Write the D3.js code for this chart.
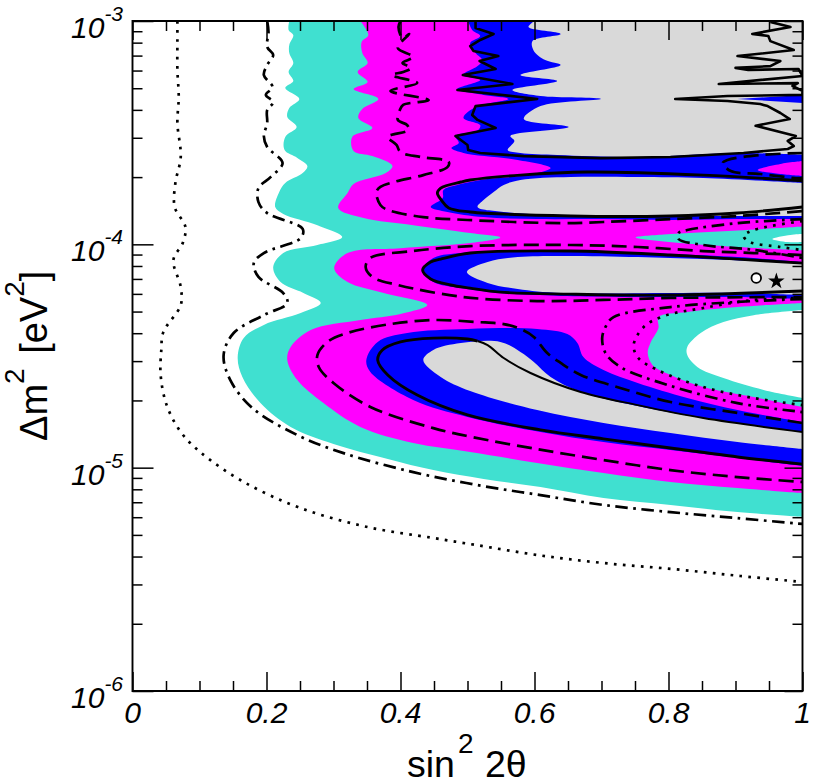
<!DOCTYPE html>
<html>
<head>
<meta charset="utf-8">
<style>
html,body{margin:0;padding:0;background:#fff;overflow:hidden}
text{font-family:"Liberation Sans",Arial,sans-serif;fill:#000}
</style>
<script src="https://cdn.jsdelivr.net/npm/d3@7"></script>
</head>
<body>
<script>
// All contours: [sin^2 2theta, log10(dm^2 / eV^2)]
const turquoiseEdge = [[.234,-3],[.233,-3.040],[.240,-3.063],[.234,-3.107],[.234,-3.143],[.240,-3.188],[.233,-3.228],[.240,-3.269],[.228,-3.300],[.249,-3.349],[.234,-3.390],[.231,-3.430],[.245,-3.475],[.228,-3.519],[.227,-3.578],[.246,-3.613],[.261,-3.649],[.254,-3.681],[.228,-3.725],[.219,-3.766],[.213,-3.833],[.225,-3.864],[.276,-3.914],[.313,-3.967],[.276,-4.003],[.225,-4.039],[.210,-4.102],[.221,-4.169],[.255,-4.218],[.281,-4.263],[.251,-4.308],[.196,-4.361],[.166,-4.419],[.157,-4.505],[.164,-4.594],[.191,-4.711],[.236,-4.818],[.300,-4.894],[.381,-4.961],[.449,-5.011],[.524,-5.051],[.609,-5.087],[.703,-5.136],[.803,-5.167],[.903,-5.199],[1,-5.221]];
const magentaEdge = [[.340,-3],[.352,-3.063],[.342,-3.094],[.343,-3.143],[.351,-3.188],[.336,-3.228],[.351,-3.273],[.330,-3.305],[.367,-3.349],[.343,-3.394],[.337,-3.434],[.358,-3.479],[.328,-3.519],[.330,-3.582],[.358,-3.605],[.388,-3.649],[.378,-3.681],[.330,-3.730],[.321,-3.770],[.307,-3.837],[.345,-3.882],[.419,-3.914],[.504,-3.949],[.549,-3.969],[.504,-3.994],[.400,-4.017],[.321,-4.039],[.301,-4.106],[.321,-4.169],[.375,-4.218],[.440,-4.272],[.400,-4.312],[.340,-4.339],[.266,-4.384],[.236,-4.460],[.231,-4.518],[.246,-4.608],[.285,-4.711],[.340,-4.818],[.419,-4.890],[.504,-4.930],[.604,-4.979],[.703,-5.024],[.803,-5.064],[.903,-5.091],[1,-5.114]];
const turquoiseIslandUpper = [[1,-3.920],[.903,-3.938],[.793,-3.956],[.751,-3.969],[.793,-3.987],[.903,-4.012],[1,-4.027]];
const whiteIslandUpper = [[1,-3.954],[.982,-3.958],[.955,-3.976],[.978,-3.990],[1,-3.990]];
const turquoiseIslandLower = [[1,-4.263],[.903,-4.281],[.828,-4.303],[.785,-4.326],[.785,-4.375],[.773,-4.442],[.769,-4.487],[.776,-4.540],[.803,-4.585],[.852,-4.639],[.927,-4.684],[1,-4.729]];
const whiteIslandLower = [[1,-4.294],[.927,-4.317],[.882,-4.348],[.848,-4.397],[.828,-4.460],[.828,-4.496],[.843,-4.549],[.882,-4.599],[.942,-4.652],[1,-4.688]];
const blueUpper = [[.501,-3],[.507,-3.040],[.519,-3.067],[.504,-3.099],[.512,-3.143],[.522,-3.175],[.515,-3.202],[.493,-3.242],[.519,-3.264],[.485,-3.305],[.524,-3.331],[.561,-3.349],[.512,-3.385],[.494,-3.434],[.519,-3.466],[.516,-3.488],[.482,-3.515],[.487,-3.546],[.476,-3.569],[.494,-3.591],[.575,-3.622],[.624,-3.658],[.590,-3.690],[.530,-3.708],[.485,-3.734],[.464,-3.757],[.463,-3.793],[.445,-3.833],[.470,-3.855],[.524,-3.878],[.604,-3.887],[.703,-3.887],[.803,-3.891],[.903,-3.887],[1,-3.887]];
const blueMiddle = [[1,-4.079],[.903,-4.057],[.803,-4.043],[.654,-4.030],[.549,-4.030],[.490,-4.039],[.449,-4.061],[.433,-4.115],[.449,-4.169],[.490,-4.196],[.549,-4.218],[.639,-4.231],[.803,-4.236],[.903,-4.236],[1,-4.245]];
const blueLower = [[1,-4.796],[.903,-4.742],[.828,-4.688],[.754,-4.621],[.703,-4.563],[.673,-4.505],[.664,-4.442],[.649,-4.402],[.604,-4.379],[.500,-4.379],[.410,-4.397],[.366,-4.437],[.349,-4.518],[.355,-4.572],[.419,-4.697],[.500,-4.773],[.609,-4.840],[.703,-4.885],[.803,-4.921],[.903,-4.957],[1,-4.993]];
const magentaLobe = [[1,-3.627],[.967,-3.640],[.933,-3.667],[.967,-3.685],[1,-3.694]];
const grayTop = [[.600,-3],[.591,-3.027],[.639,-3.058],[.597,-3.090],[.599,-3.134],[.616,-3.175],[.639,-3.197],[.579,-3.242],[.634,-3.269],[.567,-3.309],[.609,-3.336],[.699,-3.349],[.609,-3.381],[.584,-3.439],[.651,-3.475],[.564,-3.515],[.570,-3.537],[.560,-3.578],[.579,-3.591],[.634,-3.600],[.754,-3.609],[.903,-3.591],[1,-3.600]];
const graySecond = [[1,-3.725],[.852,-3.703],[.754,-3.699],[.654,-3.699],[.579,-3.712],[.554,-3.734],[.539,-3.766],[.524,-3.802],[.515,-3.833],[.554,-3.855],[.654,-3.869],[.803,-3.873],[.903,-3.873],[1,-3.873]];
const grayThird = [[1,-4.084],[.852,-4.066],[.754,-4.057],[.639,-4.052],[.575,-4.057],[.530,-4.079],[.499,-4.124],[.530,-4.173],[.575,-4.200],[.639,-4.218],[.803,-4.218],[.903,-4.218],[1,-4.227]];
const grayFourth = [[1,-4.840],[.852,-4.778],[.754,-4.724],[.669,-4.661],[.624,-4.594],[.599,-4.527],[.579,-4.482],[.549,-4.437],[.490,-4.442],[.449,-4.473],[.434,-4.518],[.460,-4.594],[.504,-4.657],[.604,-4.742],[.703,-4.800],[.803,-4.845],[.903,-4.885],[1,-4.917]];
const blueSliver = [[1,-3.331],[.903,-3.349],[1,-3.367]];
const solidTop = [[.512,-3],[.512,-3.031],[.539,-3.058],[.519,-3.085],[.504,-3.112],[.509,-3.134],[.546,-3.157],[.518,-3.179],[.542,-3.215],[.493,-3.242],[.567,-3.282],[.485,-3.309],[.604,-3.349],[.512,-3.381],[.507,-3.421],[.515,-3.443],[.542,-3.479],[.482,-3.515],[.500,-3.555],[.501,-3.578],[.519,-3.591],[.584,-3.605],[.699,-3.614],[.803,-3.609],[.912,-3.591],[.978,-3.573],[.987,-3.560],[.978,-3.537],[.990,-3.515],[.930,-3.469],[.981,-3.439],[.967,-3.412],[.948,-3.381],[.937,-3.372],[.888,-3.358],[.810,-3.349],[.888,-3.336],[1,-3.331],[1,-3.313],[.985,-3.291],[.993,-3.278],[.875,-3.282],[1,-3.246],[.994,-3.215],[.919,-3.219],[.900,-3.210],[.952,-3.202],[.967,-3.179],[.903,-3.157],[.987,-3.130],[.952,-3.090],[.949,-3.067],[.925,-3.058],[.982,-3.027],[.952,-3.004]];
const solidSecond = [[1,-3.716],[.852,-3.690],[.679,-3.676],[.579,-3.690],[.504,-3.712],[.490,-3.721],[.460,-3.748],[.455,-3.770],[.461,-3.802],[.472,-3.837],[.504,-3.855],[.654,-3.873],[.803,-3.873],[.903,-3.860],[1,-3.833]];
const solidThird = [[1,-4.084],[.903,-4.066],[.803,-4.048],[.654,-4.030],[.504,-4.039],[.460,-4.066],[.445,-4.079],[.433,-4.115],[.445,-4.155],[.475,-4.182],[.504,-4.196],[.549,-4.214],[.654,-4.223],[.803,-4.227],[1,-4.209]];
const solidFourthThin = [[1,-4.840],[.852,-4.778],[.754,-4.720],[.669,-4.661],[.594,-4.576],[.554,-4.509],[.530,-4.451],[.515,-4.433]];
const solidFourthThick = [[.515,-4.433],[.500,-4.424],[.449,-4.420],[.400,-4.437],[.373,-4.473],[.366,-4.518],[.381,-4.585],[.425,-4.675],[.500,-4.764],[.609,-4.831],[.703,-4.871],[.803,-4.912],[.903,-4.952],[1,-4.984]];
const dashedTop = [[.400,-3],[.397,-3.027],[.403,-3.076],[.413,-3.058],[.396,-3.121],[.419,-3.161],[.403,-3.188],[.416,-3.210],[.404,-3.228],[.387,-3.242],[.425,-3.278],[.385,-3.313],[.442,-3.354],[.404,-3.376],[.399,-3.399],[.396,-3.443],[.410,-3.466],[.412,-3.488],[.381,-3.519],[.394,-3.555],[.400,-3.587],[.430,-3.609],[.472,-3.631],[.470,-3.654],[.434,-3.690],[.390,-3.721],[.370,-3.743],[.364,-3.766],[.370,-3.824],[.381,-3.846],[.434,-3.878],[.500,-3.891],[.639,-3.905],[.703,-3.900],[.803,-3.887],[.903,-3.873],[1,-3.851]];
const dashedRight = [[1,-3.591],[.937,-3.600],[.888,-3.622],[.881,-3.636],[.893,-3.672],[.937,-3.685],[1,-3.708]];
const dashedMiddle = [[1,-4.048],[.927,-4.039],[.852,-4.030],[.754,-4.012],[.654,-4.003],[.504,-4.008],[.419,-4.030],[.355,-4.061],[.348,-4.102],[.358,-4.146],[.396,-4.182],[.494,-4.236],[.604,-4.254],[.703,-4.249],[.803,-4.240],[1,-4.236]];
const dashedLower = [[1,-4.800],[.903,-4.755],[.803,-4.706],[.728,-4.643],[.669,-4.585],[.639,-4.531],[.619,-4.487],[.599,-4.415],[.579,-4.379],[.554,-4.357],[.515,-4.348],[.449,-4.339],[.385,-4.357],[.321,-4.397],[.291,-4.437],[.276,-4.496],[.278,-4.549],[.300,-4.621],[.355,-4.728],[.449,-4.823],[.507,-4.863],[.604,-4.917],[.703,-4.966],[.803,-5.011],[.903,-5.042],[1,-5.064]];
const dashDotMain = [[.201,-3],[.203,-3.049],[.201,-3.116],[.210,-3.152],[.201,-3.197],[.196,-3.242],[.209,-3.296],[.199,-3.331],[.210,-3.363],[.201,-3.399],[.201,-3.457],[.196,-3.515],[.201,-3.564],[.224,-3.636],[.206,-3.699],[.188,-3.748],[.188,-3.811],[.201,-3.860],[.254,-3.931],[.251,-3.972],[.196,-4.039],[.181,-4.084],[.188,-4.146],[.225,-4.218],[.231,-4.263],[.196,-4.317],[.151,-4.397],[.136,-4.496],[.146,-4.608],[.179,-4.733],[.246,-4.854],[.315,-4.935],[.419,-5.020],[.515,-5.078],[.609,-5.123],[.703,-5.167],[.803,-5.199],[.903,-5.226],[1,-5.252]];
const dashDotRight = [[1,-4.245],[.903,-4.258],[.803,-4.281],[.718,-4.326],[.706,-4.370],[.701,-4.420],[.706,-4.487],[.728,-4.549],[.799,-4.630],[.903,-4.711],[1,-4.751]];
const dashDotSmall = [[1,-3.887],[.903,-3.905],[.828,-3.936],[.815,-3.949],[.815,-3.976],[.852,-4.003],[.927,-4.025],[1,-4.061]];
const dottedMain = [[.067,-3],[.067,-3.099],[.067,-3.219],[.069,-3.340],[.067,-3.457],[.072,-3.609],[.064,-3.725],[.063,-3.833],[.079,-3.922],[.075,-3.994],[.061,-4.070],[.072,-4.191],[.072,-4.272],[.046,-4.393],[.043,-4.473],[.042,-4.585],[.051,-4.720],[.072,-4.840],[.101,-4.930],[.166,-5.064],[.251,-5.181],[.351,-5.266],[.449,-5.315],[.512,-5.346],[.604,-5.391],[.703,-5.427],[.807,-5.454],[.907,-5.485],[1,-5.512]];
const dottedRight = [[1,-4.240],[.927,-4.249],[.852,-4.285],[.793,-4.321],[.763,-4.370],[.748,-4.451],[.755,-4.509],[.784,-4.563],[.852,-4.639],[.927,-4.688],[1,-4.720]];
const dottedSmall = [[1,-3.896],[.927,-3.936],[.912,-3.963],[.922,-3.990],[.967,-4.012],[1,-4.026]];
const circlePoint = [.931,-4.151];
const starPoint = [.961,-4.165];
const xMajorTicks = [0,.2,.4,.6,.8,1];
const xMinorTicks = [.05,.1,.15,.25,.3,.35,.45,.5,.55,.65,.7,.75,.85,.9,.95];
const xTickLabels = ["0","0.2","0.4","0.6","0.8","1"];
const yDecades = [-3,-4,-5,-6];
const yTickExponentLabels = ["-3","-4","-5","-6"];

const colors = {turquoise:"#40E0D0", magenta:"#FF00FF", blue:"#0000FF", gray:"#D9D9D9"};
const W = 814, H = 781, L = 132.5, R = 802.5, T = 21, B = 691;

const x = d3.scaleLinear().domain([0,1]).range([L,R]);
const y = d3.scaleLog().domain([1e-6,1e-3]).range([B,T]);
const svg = d3.select("body").append("svg").attr("width",W).attr("height",H).style("display","block");
svg.append("defs").append("clipPath").attr("id","plot").append("rect")
  .attr("x",L).attr("y",T).attr("width",R-L).attr("height",B-T);
const plot = svg.append("g").attr("clip-path","url(#plot)");

const smooth = d3.line().x(d=>x(d[0])).y(d=>y(Math.pow(10,d[1]))).curve(d3.curveCatmullRom.alpha(0.5));
const straight = d3.line().x(d=>x(d[0])).y(d=>y(Math.pow(10,d[1])));

function fillRegion(edge,color,gen=smooth){
  // closes along the right-hand frame of the plot
  const first = edge[0];
  plot.append("path").attr("fill",color).attr("stroke","none")
    .attr("d",gen(edge)+`L${x(1)},${y(Math.pow(10,first[1]))}L${x(first[0])},${y(Math.pow(10,first[1]))}Z`);
}
function stroke(edge,width,dash,gen=smooth){
  plot.append("path").attr("fill","none").attr("stroke","#000").attr("stroke-width",width)
    .attr("stroke-dasharray",dash||null).attr("stroke-linejoin","round").attr("d",gen(edge));
}

fillRegion(turquoiseEdge,colors.turquoise);
fillRegion(magentaEdge,colors.magenta);
fillRegion(turquoiseIslandUpper,colors.turquoise);
fillRegion(whiteIslandUpper,"#fff");
fillRegion(turquoiseIslandLower,colors.turquoise);
fillRegion(whiteIslandLower,"#fff");
fillRegion(blueUpper,colors.blue);
fillRegion(blueMiddle,colors.blue);
fillRegion(blueLower,colors.blue);
fillRegion(magentaLobe,colors.magenta);
fillRegion(grayTop,colors.gray);
fillRegion(graySecond,colors.gray);
fillRegion(grayThird,colors.gray);
fillRegion(grayFourth,colors.gray);
fillRegion(blueSliver,colors.blue,straight);

const dashPattern = "15 7", dashDotPattern = "12.5 5.5 2.7 5.5", dotPattern = "2.7 6.3";
[dottedMain,dottedRight,dottedSmall].forEach(c=>stroke(c,2.7,dotPattern));
[dashDotMain,dashDotRight,dashDotSmall].forEach(c=>stroke(c,2.7,dashDotPattern));
[dashedTop,dashedRight,dashedMiddle,dashedLower].forEach(c=>stroke(c,2.7,dashPattern));
stroke(solidTop,2.6,null,straight);
[solidSecond,solidThird,solidFourthThick].forEach(c=>stroke(c,2.9));
stroke(solidFourthThin,2);

plot.append("circle").attr("cx",x(circlePoint[0])).attr("cy",y(Math.pow(10,circlePoint[1])))
  .attr("r",4.8).attr("fill","#fff").attr("stroke","#000").attr("stroke-width",1.8);
plot.append("path").attr("d",d3.symbol().type(d3.symbolStar).size(85)())
  .attr("transform",`translate(${x(starPoint[0])},${y(Math.pow(10,starPoint[1]))})`).attr("fill","#000");

// Axes: frame and inward ticks on all four sides
const yMajor = [1e-3,1e-4,1e-5,1e-6];
const yMinor = [];
[-6,-5,-4].forEach(e=>d3.range(2,10).forEach(m=>yMinor.push(m*Math.pow(10,e))));
const majorX = 19, minorX = 10, majorY = 21, minorY = 10;
function axisGroup(axis,tx,ty,sw){
  const g = svg.append("g").attr("transform",`translate(${tx},${ty})`).call(axis);
  g.selectAll("text").remove();
  g.selectAll("path.domain").remove();
  g.selectAll("line").attr("stroke","#000").attr("stroke-width",sw);
}
axisGroup(d3.axisTop(x).tickValues(xMajorTicks).tickSize(majorX),0,B,1.5);
axisGroup(d3.axisTop(x).tickValues(xMinorTicks).tickSize(minorX),0,B,1.5);
axisGroup(d3.axisBottom(x).tickValues(xMajorTicks).tickSize(majorX),0,T,1.5);
axisGroup(d3.axisBottom(x).tickValues(xMinorTicks).tickSize(minorX),0,T,1.5);
axisGroup(d3.axisRight(y).tickValues(yMajor).tickSize(majorY),L,0,1.5);
axisGroup(d3.axisRight(y).tickValues(yMinor).tickSize(minorY),L,0,1.5);
axisGroup(d3.axisLeft(y).tickValues(yMajor).tickSize(majorY-3),R,0,1.5);
axisGroup(d3.axisLeft(y).tickValues(yMinor).tickSize(minorY),R,0,1.5);
svg.append("path").attr("fill","none").attr("stroke","#000").attr("stroke-width",1.9)
  .attr("d",`M${L},${T}H${R}V${B}H${L}Z`);

xMajorTicks.forEach((v,i)=>{
  svg.append("text").attr("x",x(v)).attr("y",723).attr("text-anchor","middle")
    .attr("font-size",30).attr("font-style","italic").text(xTickLabels[i]);
});
yDecades.forEach((e,i)=>{
  const t = svg.append("text").attr("x",71).attr("y",y(Math.pow(10,e))+17).attr("font-style","italic").attr("font-size",30);
  t.append("tspan").text("10");
  t.append("tspan").attr("font-size",21).attr("dy",-17).text(yTickExponentLabels[i]);
});

const xl = svg.append("text").attr("x",407).attr("y",777).attr("font-size",37.5);
xl.append("tspan").text("sin");
xl.append("tspan").attr("font-size",28).attr("dy",-24).attr("dx",3).text("2");
xl.append("tspan").attr("dy",24).attr("dx",1).text(" 2θ");

const yl = svg.append("text").attr("transform","translate(47,441) rotate(-90)").attr("font-size",38);
yl.append("tspan").text("Δm");
yl.append("tspan").attr("font-size",28).attr("dy",-23).text("2");
yl.append("tspan").attr("dy",23).attr("dx",4).text(" [eV");
yl.append("tspan").attr("font-size",28).attr("dy",-23).text("2");
yl.append("tspan").attr("dy",23).text("]");
</script>
</body>
</html>
